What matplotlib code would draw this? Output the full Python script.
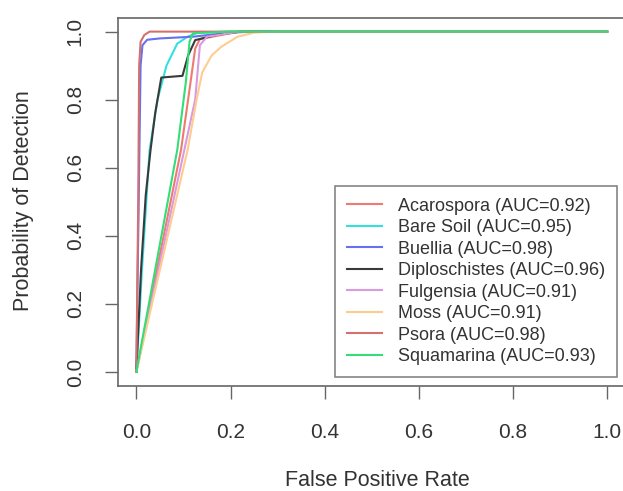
import matplotlib
matplotlib.use("Agg")
import matplotlib.pyplot as plt

plt.rcParams['font.family'] = ['Liberation Sans', 'DejaVu Sans']

# ROC curves per class: false positive rate vs probability of detection
names = ['Acarospora', 'Bare Soil', 'Buellia', 'Diploschistes',
         'Fulgensia', 'Moss', 'Psora', 'Squamarina']
auc = [0.92, 0.95, 0.98, 0.96, 0.91, 0.91, 0.98, 0.93]
colors = ['#EE7A72', '#33E0E0', '#6670F0', '#3A3A3A',
          '#D99AE0', '#FFCC90', '#D4706E', '#33DD77']

fpr_acarospora = [0, 0.095, 0.115, 0.125, 0.135, 0.18, 0.22, 1.0]
tpr_acarospora = [0, 0.653, 0.85, 0.95, 0.978, 0.99, 1.0, 1.0]

fpr_baresoil = [0, 0.012, 0.028, 0.045, 0.064, 0.087, 0.109, 0.13, 0.2, 1.0]
tpr_baresoil = [0, 0.30, 0.65, 0.80, 0.90, 0.965, 0.985, 0.997, 1.0, 1.0]

fpr_buellia = [0, 0.005, 0.009, 0.013, 0.023, 0.05, 0.12, 0.2, 0.25, 1.0]
tpr_buellia = [0, 0.50, 0.90, 0.96, 0.976, 0.98, 0.985, 0.997, 1.0, 1.0]

fpr_diplo = [0, 0.01, 0.02, 0.03, 0.04, 0.053, 0.098, 0.11, 0.125, 0.17, 0.22, 1.0]
tpr_diplo = [0, 0.30, 0.52, 0.65, 0.76, 0.865, 0.87, 0.93, 0.975, 0.99, 1.0, 1.0]

fpr_fulgensia = [0, 0.102, 0.125, 0.135, 0.15, 0.22, 1.0]
tpr_fulgensia = [0, 0.653, 0.80, 0.96, 0.985, 1.0, 1.0]

fpr_moss = [0, 0.109, 0.128, 0.14, 0.16, 0.18, 0.215, 0.25, 0.3, 1.0]
tpr_moss = [0, 0.653, 0.80, 0.88, 0.93, 0.955, 0.985, 0.997, 1.0, 1.0]

fpr_psora = [0, 0.004, 0.006, 0.009, 0.017, 0.028, 1.0]
tpr_psora = [0, 0.50, 0.90, 0.97, 0.99, 1.0, 1.0]

fpr_squam = [0, 0.087, 0.105, 0.113, 0.12, 0.2, 1.0]
tpr_squam = [0, 0.653, 0.85, 0.97, 0.995, 1.0, 1.0]

fprs = [fpr_acarospora, fpr_baresoil, fpr_buellia, fpr_diplo,
        fpr_fulgensia, fpr_moss, fpr_psora, fpr_squam]
tprs = [tpr_acarospora, tpr_baresoil, tpr_buellia, tpr_diplo,
        tpr_fulgensia, tpr_moss, tpr_psora, tpr_squam]

ticks = [0.0, 0.2, 0.4, 0.6, 0.8, 1.0]
tick_labels = ['0.0', '0.2', '0.4', '0.6', '0.8', '1.0']

fig = plt.figure(figsize=(6.23, 4.91), dpi=100)
W, H = 623, 491
left, right, top, bottom = 117.5, 626, 18, 385.5
ax = fig.add_axes([left / W, (H - bottom) / H, (right - left) / W, (bottom - top) / H])

for i in range(len(names)):
    ax.plot(fprs[i], tprs[i], color=colors[i], lw=1.5,
            label=names[i] + ' (AUC=' + format(auc[i], '.2f') + ')')

ax.set_xlim(-0.04, 1.04)
ax.set_ylim(-0.04, 1.04)
ax.set_xticks(ticks)
ax.set_xticklabels(tick_labels)
ax.set_yticks(ticks)
ax.set_yticklabels(tick_labels, rotation=90, va='center')
ax.tick_params(axis='both', length=9.5, width=1.0, color='#666666',
               labelsize=15, labelcolor='#333333')
ax.tick_params(axis='x', pad=17.5)
ax.tick_params(axis='y', pad=14)
for s in ax.spines.values():
    s.set_color('#666666')
    s.set_linewidth(1.2)

fig.text(377 / W, 1 - 480 / H, 'False Positive Rate', ha='center', va='center',
         fontsize=15.5, color='#333333')
fig.text(23 / W, 1 - 201 / H, 'Probability of Detection', ha='center', va='center',
         rotation=90, fontsize=15.5, color='#333333')

leg = ax.legend(loc='lower right', bbox_to_anchor=(617 / W, (H - 377) / H),
                bbox_transform=fig.transFigure, fontsize=13, frameon=True,
                fancybox=False, edgecolor='#666666', handlelength=1.95,
                handletextpad=0.9, labelspacing=0.25, borderpad=0.65,
                borderaxespad=0)
leg.get_frame().set_linewidth(1.2)
for t in leg.get_texts():
    t.set_color('#333333')

fig.savefig('out.png', dpi=100)
